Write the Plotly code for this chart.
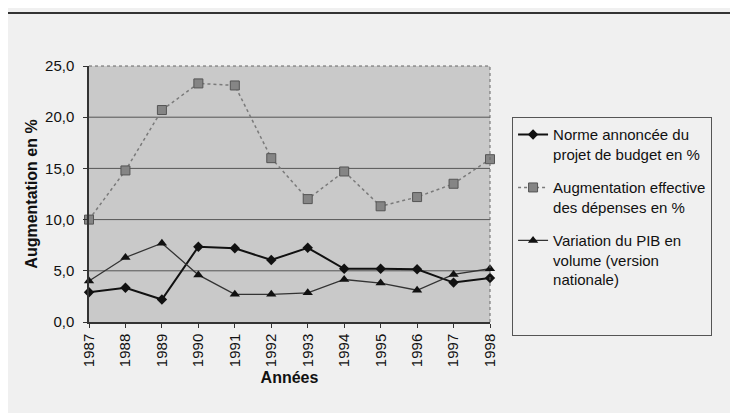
import plotly.graph_objects as go

years = [1987, 1988, 1989, 1990, 1991, 1992, 1993, 1994, 1995, 1996, 1997, 1998]
norme = [2.9, 3.35, 2.2, 7.35, 7.2, 6.05, 7.25, 5.2, 5.2, 5.15, 3.85, 4.3]
depenses = [10.0, 14.8, 20.7, 23.3, 23.1, 16.0, 12.0, 14.7, 11.3, 12.2, 13.5, 15.9]
pib = [4.0, 6.3, 7.7, 4.6, 2.7, 2.7, 2.85, 4.15, 3.8, 3.1, 4.65, 5.2]

names = ["Norme annoncée du<br>projet de budget en %",
         "Augmentation effective<br>des dépenses en %",
         "Variation du PIB en<br>volume (version<br>nationale)<br> <br> "]
ytick_vals = [0, 5, 10, 15, 20, 25]
ytick_text = ["0,0", "5,0", "10,0", "15,0", "20,0", "25,0"]
grid_vals = [5, 10, 15, 20]

font = "Liberation Sans, Arial, sans-serif"
fig = go.Figure()
fig.add_trace(go.Scatter(x=years, y=norme, name=names[0], mode="lines+markers",
                         line=dict(color="#111111", width=2),
                         marker=dict(symbol="diamond", size=8, color="#111111"),
                         legendgroup="a", cliponaxis=False))
fig.add_trace(go.Scatter(x=years, y=depenses, name=names[1], mode="lines+markers",
                         line=dict(color="#7a7a7a", width=1.5, dash="dot"),
                         marker=dict(symbol="square", size=9, color="#858585",
                                     line=dict(color="#555555", width=1)),
                         legendgroup="b", cliponaxis=False))
fig.add_trace(go.Scatter(x=years, y=pib, name=names[2], mode="lines+markers",
                         line=dict(color="#333333", width=1.3),
                         marker=dict(symbol="triangle-up", size=9, color="#111111"),
                         legendgroup="c", cliponaxis=False))

# page offset of 8px (browser body margin) is compensated in margins/size
fig.update_layout(
    width=730, height=405,
    margin=dict(l=81, r=248, t=58, b=91),
    paper_bgcolor="#f0f0f0", plot_bgcolor="#c9c9c9",
    font=dict(family=font, size=15, color="#111111"),
    showlegend=True,
    legend=dict(x=1.055, y=0.8, xanchor="left", yanchor="top",
                bgcolor="rgba(0,0,0,0)", bordercolor="#555555", borderwidth=1,
                tracegroupgap=11, valign="top", font=dict(size=15, family=font)),
    xaxis=dict(range=[1987, 1998], tickmode="array", tickvals=years,
               ticktext=[str(y) for y in years], tickangle=-90,
               showgrid=False, zeroline=False, showline=True, linecolor="#333333",
               linewidth=1.5, ticks="outside", ticklen=4, tickcolor="#333333",
               tickfont=dict(size=15),
               title=dict(text="<b>Années</b>", font=dict(size=16), standoff=6)),
    yaxis=dict(range=[0, 25], tickmode="array", tickvals=ytick_vals, ticktext=ytick_text,
               showgrid=False, zeroline=False,
               showline=True, linecolor="#333333", linewidth=1.5,
               ticks="outside", ticklen=4, tickcolor="#333333",
               ticklabelstandoff=6,
               tickfont=dict(size=15),
               title=dict(text="<b>Augmentation en %</b>", font=dict(size=16), standoff=3)),
)
for g in grid_vals:
    fig.add_shape(type="line", xref="paper", yref="y", x0=0, x1=1, y0=g, y1=g,
                  layer="below", line=dict(color="#555555", width=1))
# dotted right/top plot border
fig.add_shape(type="line", xref="paper", yref="paper", x0=1, x1=1, y0=0, y1=1,
              line=dict(color="#666666", width=1, dash="dot"))
fig.add_shape(type="line", xref="paper", yref="paper", x0=0, x1=1, y0=1, y1=1,
              line=dict(color="#666666", width=1, dash="dot"))
# top page rule
fig.add_shape(type="line", xref="paper", yref="paper", x0=-0.21, x1=1.62,
              y0=(314 - 5) / 256, y1=(314 - 5) / 256,
              line=dict(color="#333333", width=2))

fig.write_html("out.html")
